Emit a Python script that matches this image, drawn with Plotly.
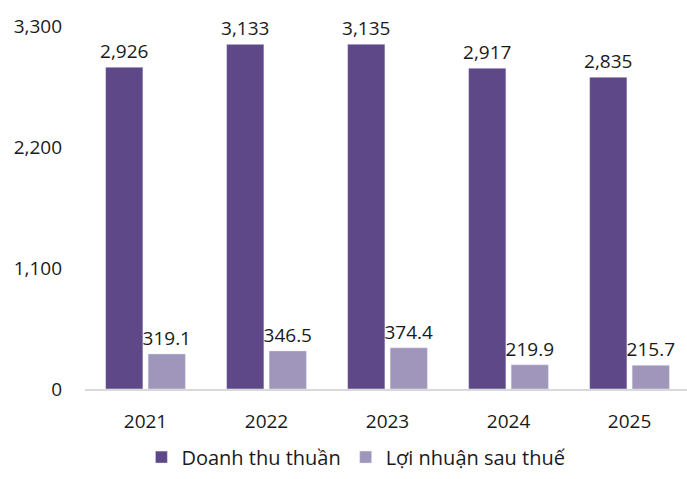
import plotly.graph_objects as go

years = ["2021", "2022", "2023", "2024", "2025"]
revenue = [2926, 3133, 3135, 2917, 2835]
profit = [319.1, 346.5, 374.4, 219.9, 215.7]
rev_labels = ["2,926", "3,133", "3,135", "2,917", "2,835"]
profit_labels = ["319.1", "346.5", "374.4", "219.9", "215.7"]
tick_vals = [0, 1100, 2200, 3300]
tick_text = ["0", "1,100", "2,200", "3,300"]

FONT = "Open Sans"
fig = go.Figure()
fig.add_trace(go.Bar(x=years, y=revenue, name="Doanh thu thuần", marker_color="#5E4887",
                     text=rev_labels, textposition="outside", cliponaxis=False, constraintext="none",
                     textfont=dict(size=19, color="#1a1a1a", family=FONT)))
fig.add_trace(go.Bar(x=years, y=profit, name="Lợi nhuận sau thuế", marker_color="#A095BA",
                     text=profit_labels, textposition="outside", cliponaxis=False, constraintext="none",
                     textfont=dict(size=19, color="#1a1a1a", family=FONT)))
fig.update_layout(
    width=687, height=479,
    margin=dict(l=85, r=0, t=26, b=90),
    barmode="group", bargap=0.2975, bargroupgap=0.122,
    plot_bgcolor="white", paper_bgcolor="white",
    font=dict(family=FONT, size=19, color="#1a1a1a"),
    legend=dict(orientation="h", x=0.45, xanchor="center", yref="container", y=0.005, yanchor="bottom",
                font=dict(size=20), traceorder="normal"),
    xaxis=dict(showline=True, linecolor="#d9d9d9", linewidth=2, ticks="", showgrid=False,
               range=[-0.5, 4.475], tickfont=dict(size=19), ticklabelstandoff=14),
    yaxis=dict(range=[0, 3300], tickvals=tick_vals, ticktext=tick_text, showgrid=False,
               zeroline=False, showline=False, ticks="", tickfont=dict(size=19), ticklabelstandoff=22),
)
fig.write_html("out.html")
